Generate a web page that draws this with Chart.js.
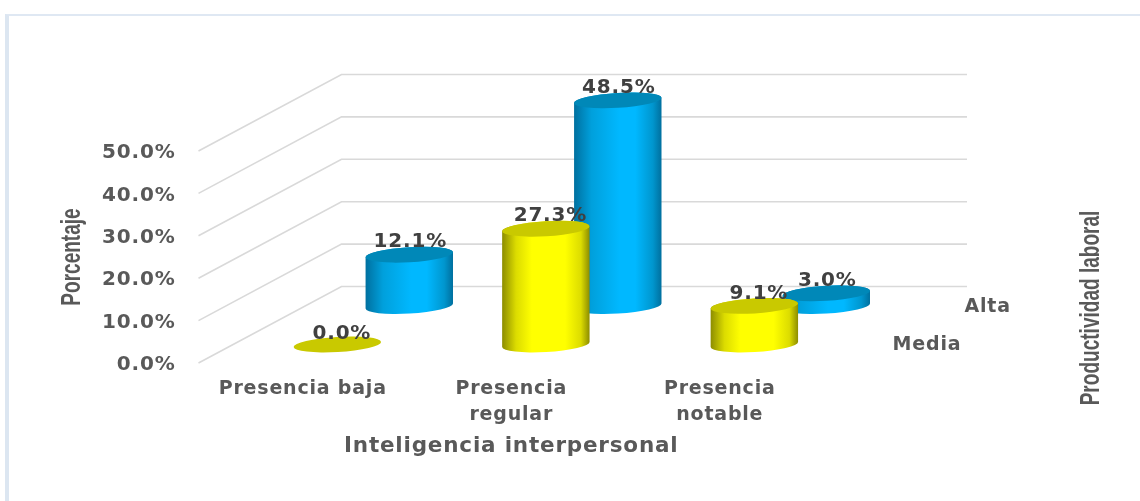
<!DOCTYPE html>
<html>
<head>
<meta charset="utf-8">
<script src="https://cdn.jsdelivr.net/npm/chart.js@4"></script>
<style>
html,body{margin:0;padding:0;background:#fff;overflow:hidden}
#frame{position:absolute;left:5px;top:14px;right:0;bottom:0;border-top:2px solid #dfe8f3;border-left:4px solid #dce6f1;pointer-events:none}
canvas{position:absolute;left:0;top:0;filter:blur(0.45px)}
</style>
</head>
<body>
<canvas id="c" width="1140" height="501"></canvas>
<div id="frame"></div>
<script>
const categories = [['Presencia baja'], ['Presencia', 'regular'], ['Presencia', 'notable']];
const seriesNames = ['Media', 'Alta'];
const mediaValues = [0.0, 27.3, 9.1];
const altaValues = [12.1, 48.5, 3.0];
const yTicks = [0, 10, 20, 30, 40, 50];
const xTitle = 'Inteligencia interpersonal';
const yTitle = 'Porcentaje';
const depthTitle = 'Productividad laboral';

const WIDE = '"DejaVu Sans"';
const NARROW = '"Liberation Sans"';
const SPACING = '0.8px';
const SQUEEZE = 0.68;
const DEPTH_X = 143, DEPTH_Y = 76.5;      // floor vector, front to back
const TILT = -3.4 * Math.PI / 180;
const RY = 7.5;

const looks = {
  Media: {f: 0.242, cap: '#c9c900', labelDx: 4.5,
    stops: [[0, '#8c8c00'], [0.16, '#dcdc00'], [0.34, '#ffff00'], [0.72, '#ffff00'], [0.9, '#dcdc00'], [1, '#8c8c00']]},
  Alta: {f: 0.745, cap: '#0088b8', labelDx: 1,
    stops: [[0, '#00709f'], [0.2, '#00a0dc'], [0.52, '#00b8ff'], [0.7, '#00b8ff'], [0.9, '#0096ce'], [1, '#006f9e']]}
};

function cylinder(ctx, el, look) {
  const p = el.getProps(['x', 'y', 'base', 'width'], true);
  const dx = look.f * DEPTH_X, dy = look.f * DEPTH_Y;
  const cx = p.x + dx, top = p.y - dy, bot = p.base - dy, rx = p.width / 2;
  ctx.save();
  if (bot - top > 0.5) {
    const g = ctx.createLinearGradient(cx - rx, 0, cx + rx, 0);
    look.stops.forEach(s => g.addColorStop(s[0], s[1]));
    ctx.fillStyle = g;
    ctx.beginPath();
    ctx.ellipse(cx, bot, rx, RY, TILT, 0, Math.PI);
    ctx.ellipse(cx, top, rx, RY, TILT, Math.PI, 2 * Math.PI);
    ctx.closePath();
    ctx.fill();
  }
  ctx.fillStyle = look.cap;
  ctx.beginPath();
  ctx.ellipse(cx, top, rx, RY, TILT, 0, 2 * Math.PI);
  ctx.fill();
  ctx.restore();
}

const scene = {
  id: 'scene',
  beforeDraw(chart) {
    const ctx = chart.ctx;
    ctx.letterSpacing = SPACING;
    const ys = chart.scales.y;
    if (!ys._wrapped) {
      ys._wrapped = true;
      const orig = ys.drawTitle;
      ys.drawTitle = function () {
        const cy = (this.top + this.bottom) / 2;
        ctx.save();
        ctx.letterSpacing = '0px';
        ctx.translate(0, cy);
        ctx.scale(1, SQUEEZE);
        ctx.translate(0, -cy);
        orig.call(this);
        ctx.restore();
        ctx.letterSpacing = SPACING;
      };
    }
  },
  beforeDatasetsDraw(chart) {
    const ctx = chart.ctx, ys = chart.scales.y, a = chart.chartArea;
    ctx.save();
    ctx.strokeStyle = '#d9d9d9';
    ctx.lineWidth = 1.6;
    ys.ticks.forEach(t => {
      const py = ys.getPixelForValue(t.value);
      ctx.beginPath();
      ctx.moveTo(a.left, py);
      ctx.lineTo(a.left + DEPTH_X, py - DEPTH_Y);
      ctx.lineTo(a.right + DEPTH_X, py - DEPTH_Y);
      ctx.stroke();
    });
    ctx.restore();
  },
  beforeDatasetDraw(chart, args) {
    const look = looks[chart.data.datasets[args.index].label];
    args.meta.data.forEach(el => cylinder(chart.ctx, el, look));
    return false;
  },
  afterDatasetsDraw(chart) {
    const ctx = chart.ctx, a = chart.chartArea;
    ctx.save();
    ctx.textBaseline = 'middle';
    chart.data.datasets.forEach((ds, i) => {
      const look = looks[ds.label];
      ctx.textAlign = 'center';
      ctx.font = 'bold 20px ' + WIDE;
      chart.getDatasetMeta(i).data.forEach((el, j) => {
        const p = el.getProps(['x', 'y'], true);
        ctx.fillStyle = '#404040';
        const up = ds.data[j] === 0 ? 10.5 : 12.5;
        ctx.fillText(ds.data[j].toFixed(1) + '%', p.x + look.f * DEPTH_X + look.labelDx, p.y - look.f * DEPTH_Y - up);
      });
      // depth-axis label
      ctx.font = 'bold 19px ' + WIDE;
      ctx.fillStyle = '#595959';
      ctx.textAlign = 'left';
      ctx.fillText(ds.label, a.right + look.f * DEPTH_X + 34, a.bottom - look.f * DEPTH_Y + 1);
    });
    ctx.textAlign = 'center';
    ctx.letterSpacing = '0px';
    ctx.translate(1091.5, 308);
    ctx.rotate(-Math.PI / 2);
    ctx.scale(SQUEEZE, 1);
    ctx.font = 'bold 28px ' + NARROW;
    ctx.fillStyle = '#595959';
    ctx.fillText(depthTitle, 0, 0);
    ctx.restore();
    ctx.letterSpacing = SPACING;
  }
};

new Chart(document.getElementById('c'), {
  type: 'bar',
  plugins: [scene],
  data: {
    labels: categories,
    datasets: [
      {label: seriesNames[0], data: mediaValues, backgroundColor: '#ffff00'},
      {label: seriesNames[1], data: altaValues, backgroundColor: '#00b8ff'}
    ]
  },
  options: {
    responsive: false,
    animation: false,
    events: [],
    grouped: false,
    categoryPercentage: 1,
    barPercentage: 0.42,
    layout: {padding: {left: 0, top: 151, right: 316, bottom: 0}},
    plugins: {legend: {display: false}, tooltip: {enabled: false}},
    scales: {
      x: {
        grid: {display: false, drawTicks: false},
        border: {display: false},
        ticks: {
          color: '#595959', padding: 14, autoSkip: false, maxRotation: 0, minRotation: 0,
          font: {family: WIDE, size: 19, weight: 'bold', lineHeight: 1.32}
        },
        title: {
          display: true, text: xTitle, color: '#595959',
          font: {family: WIDE, size: 21.5, weight: 'bold', lineHeight: 1.2},
          padding: {top: 0, bottom: 42}
        },
        afterFit(s) { s.height = 138; }
      },
      y: {
        min: 0, max: 50,
        afterBuildTicks(s) { s.ticks = yTicks.map(v => ({value: v})); },
        grid: {display: false, drawTicks: false},
        border: {display: false},
        ticks: {
          color: '#595959', padding: 23, labelOffset: 2,
          font: {family: WIDE, size: 20, weight: 'bold'},
          callback: v => v.toFixed(1) + '%'
        },
        title: {
          display: true, text: yTitle, color: '#595959',
          font: {family: NARROW, size: 28, weight: 'bold', lineHeight: 1.2},
          padding: {top: 55.2, bottom: 0}
        },
        afterFit(s) { s.width = 198.5; }
      }
    }
  }
});
</script>
</body>
</html>
